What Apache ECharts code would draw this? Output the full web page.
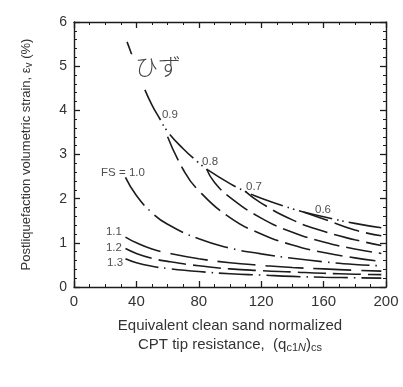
<!DOCTYPE html>
<html><head><meta charset="utf-8">
<script src="https://cdn.jsdelivr.net/npm/echarts@6/dist/echarts.min.js"></script>
<style>html,body{margin:0;padding:0;background:#fff}#c{width:403px;height:387px}</style>
</head><body><div id="c"></div>
<script>
// ---- data ----
const xTicks = [0, 40, 80, 120, 160, 200];
const yTicks = [0, 1, 2, 3, 4, 5, 6];
// upper envelope (maximum strain, FS <= 0.5)
const envX = [34, 36, 40, 45, 50, 55, 60, 70, 80, 85, 100, 110, 120, 140, 147, 160, 180, 197];
const envY = [5.55, 5.36, 4.96, 4.50, 4.12, 3.81, 3.52, 3.13, 2.81, 2.67, 2.34, 2.16, 2.01, 1.77, 1.70, 1.59, 1.44, 1.34];
const fs09X = [60, 70, 80, 100, 120, 140, 160, 180, 197];
const fs09Y = [3.40, 2.66, 2.18, 1.57, 1.20, 0.95, 0.78, 0.66, 0.58];
const fs08X = [85, 90, 100, 120, 140, 160, 180, 197];
const fs08Y = [2.67, 2.37, 2.03, 1.56, 1.24, 1.02, 0.86, 0.76];
const fs07X = [110, 120, 140, 160, 180, 197];
const fs07Y = [2.16, 1.90, 1.52, 1.26, 1.07, 0.94];
const fs06X = [147, 160, 180, 197];
const fs06Y = [1.70, 1.54, 1.29, 1.16];
const fs10X = [33, 40, 50, 60, 80, 100, 120, 140, 160, 180, 197];
const fs10Y = [2.48, 2.07, 1.68, 1.42, 1.09, 0.88, 0.75, 0.65, 0.57, 0.51, 0.48];
const fs11X = [33, 40, 50, 60, 80, 100, 120, 140, 160, 180, 197];
const fs11Y = [1.13, 1.00, 0.86, 0.77, 0.64, 0.55, 0.49, 0.44, 0.41, 0.38, 0.36];
const fs12X = [33, 40, 50, 60, 80, 100, 120, 140, 160, 180, 197];
const fs12Y = [0.87, 0.76, 0.65, 0.58, 0.48, 0.41, 0.37, 0.34, 0.31, 0.29, 0.28];
const fs13X = [33, 40, 50, 60, 80, 100, 120, 140, 160, 180, 197];
const fs13Y = [0.64, 0.55, 0.47, 0.42, 0.35, 0.30, 0.27, 0.24, 0.22, 0.21, 0.20];
// curve labels (text, x, y in data units)
const labelText = ['0.9', '0.8', '0.7', '0.6', 'FS = 1.0', '1.1', '1.2', '1.3'];
const labelX = [61.5, 87.2, 115.4, 159.6, 31.4, 25.6, 25.6, 26.3];
const labelY = [3.89, 2.83, 2.26, 1.74, 2.58, 1.25, 0.88, 0.54];
const noteText = 'ひず';
const noteX = 53.8, noteY = 5.0;

const zip = (xs, ys) => xs.map((x, i) => [x, ys[i]]);
const INK = '#1c1c1c';
const FONT = '"Liberation Sans", Arial, sans-serif';
function line(name, xs, ys, dash) {
  return { name, type: 'line', data: zip(xs, ys), smooth: true, showSymbol: false, symbol: 'none',
    lineStyle: { color: INK, width: 1.6, type: dash }, z: 3, silent: true };
}
const dashDotDot = [34, 5, 1.5, 4, 1.5, 5];
const longDash = [26, 7];
const dashDot = [34, 6, 1.5, 6];

const tickStyle = { lineStyle: { color: INK, width: 1.3 } };
function xAx(pos, showLabel) {
  return { type: 'value', position: pos, min: 0, max: 200, interval: 40,
    axisLine: { show: true, onZero: false, lineStyle: { color: INK, width: 1.4 } },
    axisTick: { show: true, inside: true, length: 6, ...tickStyle },
    minorTick: { show: true, splitNumber: 4, length: 3, lineStyle: { color: INK, width: 1 } },
    splitLine: { show: false },
    axisLabel: { show: showLabel, color: '#333', fontSize: 15, fontFamily: FONT, margin: 7 },
    name: showLabel ? '{a|Equivalent clean sand normalized}\n{a|CPT tip resistance,  (q}{s|c1}{si|N}{a|)}{s|cs}' : '',
    nameLocation: 'middle', nameGap: 29,
    nameTextStyle: { color: '#333', fontFamily: FONT, lineHeight: 19, verticalAlign: 'top',
      rich: { a: { fontSize: 15, fontFamily: FONT, color: '#333' },
              s: { fontSize: 11, fontFamily: FONT, color: '#333', padding: [7, 0, 0, 0] },
              si: { fontSize: 11, fontFamily: FONT, fontStyle: 'italic', color: '#333', padding: [7, 0, 0, 0] } } }
  };
}
function yAx(pos, showLabel) {
  return { type: 'value', position: pos, min: 0, max: 6, interval: 1,
    axisLine: { show: true, onZero: false, lineStyle: { color: INK, width: 1.4 } },
    axisTick: { show: true, inside: true, length: 6, ...tickStyle },
    minorTick: { show: true, splitNumber: 5, length: 3, lineStyle: { color: INK, width: 1 } },
    splitLine: { show: false },
    axisLabel: { show: showLabel, color: '#333', fontSize: 14, fontFamily: FONT, margin: 7 },
    name: showLabel ? '{a|Postliquefaction volumetric strain, ε}{s|v}{a| (%)}' : '',
    nameLocation: 'middle', nameRotate: 90, nameGap: 40,
    nameTextStyle: { color: '#333', fontFamily: FONT,
      rich: { a: { fontSize: 13, fontFamily: FONT, color: '#333' },
              s: { fontSize: 10, fontFamily: FONT, color: '#333', padding: [6, 0, 0, 0] } } }
  };
}

const chart = echarts.init(document.getElementById('c'), null, { renderer: 'canvas' });
chart.setOption({
  animation: false,
  backgroundColor: '#ffffff',
  grid: { left: 74, right: 17, top: 22, bottom: 100, containLabel: false },
  xAxis: [xAx('bottom', true), xAx('top', false)],
  yAxis: [yAx('left', true), yAx('right', false)],
  series: [
    line('envelope', envX, envY, dashDotDot),
    line('0.9', fs09X, fs09Y, longDash),
    line('0.8', fs08X, fs08Y, longDash),
    line('0.7', fs07X, fs07Y, longDash),
    line('0.6', fs06X, fs06Y, longDash),
    line('1.0', fs10X, fs10Y, dashDot),
    line('1.1', fs11X, fs11Y, [38, 10]),
    line('1.2', fs12X, fs12Y, [28, 7]),
    line('1.3', fs13X, fs13Y, dashDot),
    { type: 'scatter', symbolSize: 0, silent: true, z: 5,
      data: labelText.map((t, i) => ({ name: t, value: [labelX[i], labelY[i]] })),
      label: { show: true, position: 'inside', formatter: p => p.name, color: '#222', fontSize: 11.5, fontFamily: FONT } }
  ]
});
// handwritten-style note over the envelope (masks the line beneath it)
const np = chart.convertToPixel({ gridIndex: 0 }, [noteX, noteY]);
chart.setOption({
  graphic: [
    { type: 'rect', z: 100, silent: true,
      shape: { x: np[0] - 31, y: np[1] - 12, width: 62, height: 34 }, style: { fill: '#ffffff' } },
    { type: 'text', z: 101, silent: true, x: np[0], y: np[1],
      style: { text: noteText, fill: '#444', align: 'center', verticalAlign: 'middle',
        font: '300 23px "Noto Sans CJK JP", sans-serif' } }
  ]
});
</script></body></html>
